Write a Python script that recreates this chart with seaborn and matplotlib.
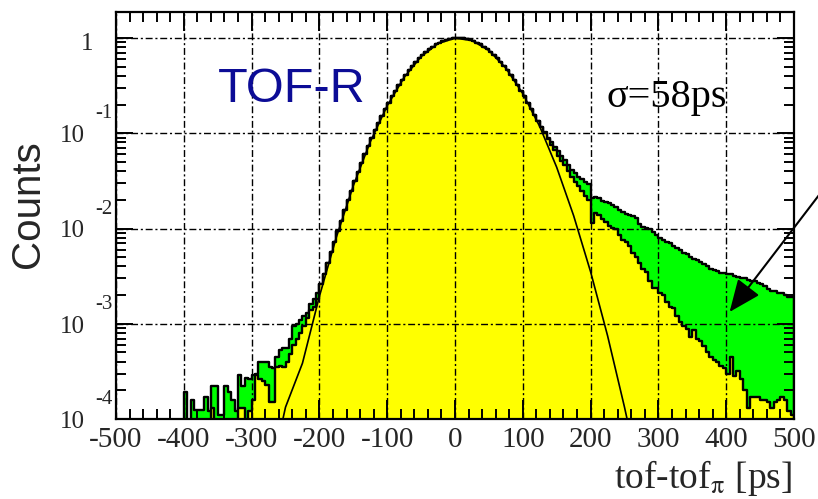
import numpy as np
import pandas as pd
import matplotlib
matplotlib.use("Agg")
import matplotlib.pyplot as plt
import matplotlib.transforms as mtransforms
from matplotlib.ticker import MultipleLocator, LogLocator, NullFormatter
import seaborn as sns

# ---------------- data ----------------
bin_lo, bin_hi, bin_w = -400, 500, 5

# left tail  (bin centres -397.5 ... -202.5)
green_left = [1.9e-4, 0, 1.6e-4, 1.25e-4, 1.25e-4, 1.25e-4, 1.7e-4, 1.2e-4, 2.2e-4, 2.2e-4,
              1.1e-4, 1.1e-4, 2.2e-4, 1.9e-4, 1.6e-4, 1.2e-4, 2.9e-4, 2.2e-4, 2.7e-4, 2.6e-4,
              2.9e-4, 3.0e-4, 4.0e-4, 4.0e-4, 4.0e-4, 3.5e-4, 3.4e-4, 4.5e-4, 5.3e-4, 5.5e-4,
              5.5e-4, 7.0e-4, 9.5e-4, 1.0e-3, 1.1e-3, 1.2e-3, 1.3e-3, 1.6e-3, 1.8e-3, 2.1e-3]
yellow_left = [0, 0, 0, 0, 0, 0, 0, 0, 1.3e-4, 0,
               0, 0, 0, 0, 0, 0, 1.3e-4, 1.3e-4, 0, 1.2e-4,
               1.6e-4, 2.9e-4, 2.6e-4, 2.5e-4, 2.3e-4, 1.5e-4, 1.5e-4, 3.5e-4, 3.6e-4, 3.5e-4,
               4.0e-4, 4.8e-4, 6.0e-4, 7.0e-4, 8.0e-4, 9.5e-4, 1.15e-3, 1.4e-3, 1.5e-3, 1.8e-3]

# core, identical for both (bin centres -197.5 ... 112.5)
core = [2.6e-3, 3.3e-3, 4.3e-3, 5.6e-3, 7.3e-3, 9.4e-3, 0.0120, 0.0155, 0.0197, 0.0250,
        0.0315, 0.0394, 0.0489, 0.0602, 0.0736, 0.0893, 0.1075, 0.1285, 0.1524, 0.1795,
        0.2098, 0.2434, 0.2803, 0.3205, 0.3636, 0.4095, 0.4579, 0.5081, 0.5596, 0.6118,
        0.6639, 0.7151, 0.7646, 0.8114, 0.8547, 0.8937, 0.9276, 0.9555, 0.977, 0.992,
        0.999, 0.999, 0.992, 0.977, 0.9555, 0.9276, 0.8937, 0.8547, 0.8114, 0.7646,
        0.7151, 0.6639, 0.6118, 0.5596, 0.5081, 0.4579, 0.4095, 0.3636, 0.3205, 0.2803,
        0.2434, 0.2098, 0.1795]

# right tail (bin centres 117.5 ... 497.5)
green_right = [0.155, 0.135, 0.117, 0.102, 0.090, 0.080, 0.072, 0.065, 0.058, 0.052,
               0.046, 0.041, 0.038, 0.035, 0.033, 0.031, 0.029, 0.021, 0.0215, 0.021,
               0.0195, 0.019, 0.0185, 0.0175, 0.0168, 0.0155, 0.015, 0.0142, 0.0138, 0.0135,
               0.0128, 0.0112, 0.0104, 0.0102, 0.0098, 0.0092, 0.0085, 0.0080, 0.0075, 0.0072,
               0.0070, 0.0066, 0.0062, 0.0060, 0.0055, 0.0054, 0.0050, 0.0048, 0.0047, 0.0044,
               0.0042, 0.0040, 0.0038, 0.0037, 0.0036, 0.0034, 0.0034, 0.0033, 0.0033, 0.0032,
               0.0031, 0.0030, 0.0030, 0.0029, 0.0028, 0.0028, 0.0027, 0.0026, 0.0025, 0.0023,
               0.0022, 0.0022, 0.0021, 0.0021, 0.0020, 0.0019, 0.0019]
yellow_right = [0.155, 0.135, 0.117, 0.100, 0.087, 0.075, 0.066, 0.058, 0.051, 0.046,
                0.040, 0.035, 0.031, 0.028, 0.025, 0.022, 0.020, 0.0115, 0.0145, 0.014,
                0.0125, 0.0118, 0.0105, 0.0102, 0.0098, 0.0085, 0.0076, 0.0072, 0.0065, 0.0055,
                0.0050, 0.0043, 0.0038, 0.0035, 0.0028, 0.0024, 0.0024, 0.0021, 0.0020, 0.0017,
                0.0015, 0.00145, 0.0012, 0.00105, 0.00095, 0.00088, 0.00072, 0.00085, 0.00070, 0.00066,
                0.00058, 0.00050, 0.00045, 0.00042, 0.00040, 0.00036, 0.00034, 0.00030, 0.00045, 0.00028,
                0.00032, 0.00026, 0.00020, 0.00013, 0.00017, 0.00017, 0.00017, 0.00016, 0.00016, 0.00015,
                0.00013, 0.00015, 0.00016, 0.00017, 0.00016, 0.00012, 0.00011]

# Gaussian fit curve (sigma = 58 ps), read at these points
fit_x = [-260, -250, -225, -200, -175, -150, -125, -100, -75, -50, -25, 0,
         25, 50, 75, 100, 125, 150, 175, 200, 225, 250, 260]
fit_y = [6.3e-5, 1.33e-4, 3.85e-4, 1.94e-3, 8.1e-3, 2.81e-2, 0.0811, 0.194, 0.386, 0.638, 0.875, 0.996,
         0.942, 0.740, 0.483, 0.261, 0.1176, 0.0439, 0.01362, 3.51e-3, 7.5e-4, 1.33e-4, 6.3e-5]

x_ticks = [-500, -400, -300, -200, -100, 0, 100, 200, 300, 400, 500]
x_tick_labels = ["-500", "-400", "-300", "-200", "-100", "0", "100", "200", "300", "400", "500"]
y_decades = [-4, -3, -2, -1]

edges = list(range(bin_lo, bin_hi + bin_w, bin_w))
centers = [e + bin_w / 2 for e in edges[:-1]]
hist_df = pd.DataFrame({
    "t": centers,
    "green": green_left + core + green_right,
    "yellow": yellow_left + core + yellow_right,
})
fit_df = pd.DataFrame({"t": fit_x, "v": fit_y})

# ---------------- style ----------------
sns.set_style("ticks")
plt.rcParams["font.family"] = ["Liberation Serif", "DejaVu Serif"]
plt.rcParams["mathtext.fontset"] = "stix"

fig = plt.figure(figsize=(8.18, 4.99), dpi=100)
ax = fig.add_axes([116 / 818, 1 - 419 / 499, 678 / 818, 407 / 499])

sns.histplot(data=hist_df, x="t", weights="green", bins=edges, element="step", fill=True,
             color="#00ff00", edgecolor="black", linewidth=1.7, alpha=1, ax=ax)
sns.histplot(data=hist_df, x="t", weights="yellow", bins=edges, element="step", fill=True,
             color="#ffff00", edgecolor="black", linewidth=1.7, alpha=1, ax=ax)
sns.lineplot(data=fit_df, x="t", y="v", color="black", linewidth=1.2, ax=ax, sort=False)

ax.set_yscale("log")
ax.set_xlim(-500, 500)
ax.set_ylim(1e-4, 1.875)
ax.set_xlabel("")
ax.set_ylabel("")

# grid on top
ax.set_axisbelow(False)
ax.grid(True, which="major", color="black", linestyle=(0, (5, 2, 1.5, 2)), linewidth=1.0)
ax.grid(False, which="minor")

for s in ax.spines.values():
    s.set_linewidth(1.6)
    s.set_color("black")
    s.set_zorder(5)

ax.xaxis.set_minor_locator(MultipleLocator(20))
ax.set_xticks(x_ticks)
ax.set_xticklabels(x_tick_labels, fontsize=21, family="Liberation Serif")
ax.yaxis.set_major_locator(LogLocator(base=10, numticks=10))
ax.yaxis.set_minor_locator(LogLocator(base=10, subs=np.arange(2, 10) * 1.0, numticks=40))
ax.yaxis.set_major_formatter(NullFormatter())
ax.yaxis.set_minor_formatter(NullFormatter())
ax.tick_params(axis="both", which="both", direction="in", top=True, right=True, color="black")
ax.tick_params(axis="x", which="major", length=14, width=1.4, pad=6)
ax.tick_params(axis="x", which="minor", length=7, width=1.4)
ax.tick_params(axis="y", which="major", length=12, width=1.4)
ax.tick_params(axis="y", which="minor", length=7, width=1.4)

# ROOT-style y labels
blend = mtransforms.blended_transform_factory(ax.transAxes, ax.transData)
for k in y_decades:
    ax.annotate("10", xy=(-0.065, 10.0 ** k), xycoords=blend, xytext=(0, -2),
                textcoords="offset points", ha="center", va="center", fontsize=18,
                annotation_clip=False)
    ax.annotate(str(k), xy=(-0.018, 10.0 ** k), xycoords=blend, xytext=(0, 14),
                textcoords="offset points", ha="center", va="center", fontsize=15,
                annotation_clip=False)
ax.annotate("1", xy=(-0.042, 1.0), xycoords=blend, xytext=(0, -4),
            textcoords="offset points", ha="center", va="center", fontsize=18,
            annotation_clip=False)

# texts
ax.text(0.150, 0.779, "TOF-R", transform=ax.transAxes, ha="left", va="baseline",
        fontsize=35, color="#0c0c96", family=["Liberation Sans", "DejaVu Sans"])
ax.text(0.724, 0.767, "σ=58ps", transform=ax.transAxes, ha="left", va="baseline",
        fontsize=29, color="black")
fig.text(28 / 818, 1 - 204 / 499, "Counts", rotation=90, ha="center", va="center",
         fontsize=29, family=["Liberation Sans", "DejaVu Sans"])
fig.text(792 / 818, 1 - 478 / 499, r"tof-tof$_{\mathrm{\pi}}$ [ps]", ha="right", va="center",
         fontsize=27)

ax.annotate("", xy=(405, 1.33e-3), xycoords="data",
            xytext=(842 / 818, 1 - 165 / 499), textcoords="figure fraction",
            arrowprops=dict(arrowstyle="-|>,head_length=0.9,head_width=0.38",
                            color="black", lw=1.5, mutation_scale=22,
                            shrinkA=0, shrinkB=0),
            annotation_clip=False)

fig.savefig("out.png", dpi=100)
